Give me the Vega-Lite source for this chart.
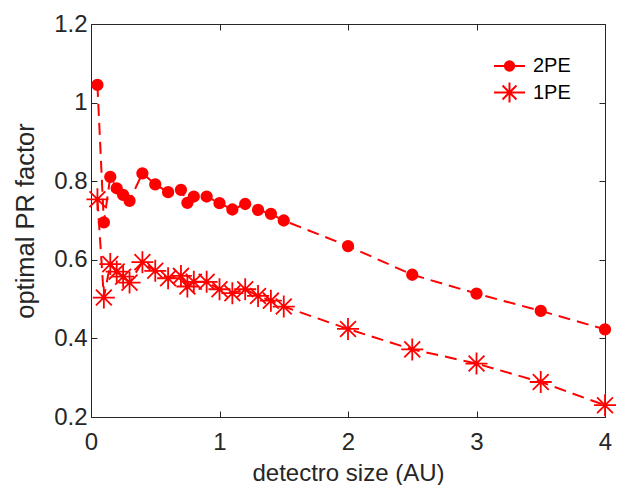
{
  "$schema": "https://vega.github.io/schema/vega-lite/v6.json",
  "width": 514,
  "height": 393,
  "autosize": "none",
  "padding": {"left": 91, "top": 24, "right": 12, "bottom": 68},
  "background": "white",
  "data": {
    "values": [
      {"size": 0.05, "factor": 1.045, "series": "2PE"},
      {"size": 0.1, "factor": 0.695, "series": "2PE"},
      {"size": 0.15, "factor": 0.811, "series": "2PE"},
      {"size": 0.2, "factor": 0.782, "series": "2PE"},
      {"size": 0.25, "factor": 0.765, "series": "2PE"},
      {"size": 0.3, "factor": 0.75, "series": "2PE"},
      {"size": 0.4, "factor": 0.82, "series": "2PE"},
      {"size": 0.5, "factor": 0.792, "series": "2PE"},
      {"size": 0.6, "factor": 0.772, "series": "2PE"},
      {"size": 0.7, "factor": 0.778, "series": "2PE"},
      {"size": 0.75, "factor": 0.745, "series": "2PE"},
      {"size": 0.8, "factor": 0.761, "series": "2PE"},
      {"size": 0.9, "factor": 0.761, "series": "2PE"},
      {"size": 1.0, "factor": 0.744, "series": "2PE"},
      {"size": 1.1, "factor": 0.728, "series": "2PE"},
      {"size": 1.2, "factor": 0.742, "series": "2PE"},
      {"size": 1.3, "factor": 0.727, "series": "2PE"},
      {"size": 1.4, "factor": 0.717, "series": "2PE"},
      {"size": 1.5, "factor": 0.7, "series": "2PE"},
      {"size": 2.0, "factor": 0.635, "series": "2PE"},
      {"size": 2.5, "factor": 0.562, "series": "2PE"},
      {"size": 3.0, "factor": 0.514, "series": "2PE"},
      {"size": 3.5, "factor": 0.47, "series": "2PE"},
      {"size": 4.0, "factor": 0.423, "series": "2PE"},
      {"size": 0.05, "factor": 0.754, "series": "1PE"},
      {"size": 0.1, "factor": 0.504, "series": "1PE"},
      {"size": 0.15, "factor": 0.589, "series": "1PE"},
      {"size": 0.2, "factor": 0.57, "series": "1PE"},
      {"size": 0.25, "factor": 0.557, "series": "1PE"},
      {"size": 0.3, "factor": 0.542, "series": "1PE"},
      {"size": 0.4, "factor": 0.594, "series": "1PE"},
      {"size": 0.5, "factor": 0.572, "series": "1PE"},
      {"size": 0.6, "factor": 0.553, "series": "1PE"},
      {"size": 0.7, "factor": 0.559, "series": "1PE"},
      {"size": 0.75, "factor": 0.532, "series": "1PE"},
      {"size": 0.8, "factor": 0.544, "series": "1PE"},
      {"size": 0.9, "factor": 0.544, "series": "1PE"},
      {"size": 1.0, "factor": 0.525, "series": "1PE"},
      {"size": 1.1, "factor": 0.515, "series": "1PE"},
      {"size": 1.2, "factor": 0.525, "series": "1PE"},
      {"size": 1.3, "factor": 0.508, "series": "1PE"},
      {"size": 1.4, "factor": 0.496, "series": "1PE"},
      {"size": 1.5, "factor": 0.481, "series": "1PE"},
      {"size": 2.0, "factor": 0.424, "series": "1PE"},
      {"size": 2.5, "factor": 0.372, "series": "1PE"},
      {"size": 3.0, "factor": 0.336, "series": "1PE"},
      {"size": 3.5, "factor": 0.289, "series": "1PE"},
      {"size": 4.0, "factor": 0.23, "series": "1PE"}
    ]
  },
  "layer": [
    {
      "mark": {"type": "line", "color": "#ff0000", "strokeWidth": 2, "strokeDash": [12, 7]},
      "encoding": {
        "x": {
          "field": "size", "type": "quantitative",
          "scale": {"domain": [0, 4], "nice": false, "zero": false},
          "axis": {"orient": "bottom", "values": [0, 1, 2, 3, 4], "format": "~g", "title": "detectro size (AU)", "labelPadding": 19, "titlePadding": 7}
        },
        "y": {
          "field": "factor", "type": "quantitative",
          "scale": {"domain": [0.2, 1.2], "nice": false, "zero": false},
          "axis": {"orient": "left", "values": [0.2, 0.4, 0.6, 0.8, 1, 1.2], "format": "~g", "title": "optimal PR factor", "labelPadding": 10, "titlePadding": 15, "titleFontSize": 25.5}
        },
        "detail": {"field": "series", "type": "nominal"}
      }
    },
    {
      "transform": [{"filter": "datum.series === '2PE'"}],
      "mark": {"type": "point", "shape": "circle", "size": 110, "filled": true, "stroke": "#ff0000", "strokeWidth": 1.8, "opacity": 1},
      "encoding": {
        "x": {"field": "size", "type": "quantitative", "axis": null},
        "y": {"field": "factor", "type": "quantitative", "axis": null},
        "color": {
          "field": "series", "type": "nominal",
          "scale": {"domain": ["2PE"], "range": ["#ff0000"]},
          "legend": {
            "orient": "none", "legendX": 402, "legendY": 25.5, "title": null, "padding": 0,
            "symbolType": "M-1,0L1,0M0.3,0A0.3,0.3,0,1,1,-0.3,0A0.3,0.3,0,1,1,0.3,0Z",
            "symbolSize": 961, "symbolFillColor": "#ff0000", "symbolStrokeColor": "#ff0000", "symbolStrokeWidth": 2,
            "labelFont": "Liberation Sans", "labelFontSize": 20, "labelColor": "#000000", "labelOffset": 7
          }
        }
      }
    },
    {
      "transform": [{"filter": "datum.series === '1PE'"}],
      "mark": {"type": "point", "shape": "M-1,0L1,0M0,-1L0,1M-0.72,-0.72L0.72,0.72M-0.72,0.72L0.72,-0.72", "size": 484, "filled": false, "strokeWidth": 1.8, "opacity": 1},
      "encoding": {
        "x": {"field": "size", "type": "quantitative", "axis": null},
        "y": {"field": "factor", "type": "quantitative", "axis": null},
        "stroke": {
          "field": "series", "type": "nominal",
          "scale": {"domain": ["1PE"], "range": ["#ff0000"]},
          "legend": {
            "orient": "none", "legendX": 402, "legendY": 52, "title": null, "padding": 0,
            "symbolType": "M-1,0L1,0M0,-0.645L0,0.645M-0.45,-0.45L0.45,0.45M-0.45,0.45L0.45,-0.45",
            "symbolSize": 961, "symbolStrokeColor": "#ff0000", "symbolStrokeWidth": 2,
            "labelFont": "Liberation Sans", "labelFontSize": 20, "labelColor": "#000000", "labelOffset": 7
          }
        }
      }
    },
    {
      "mark": {"type": "point", "opacity": 0},
      "encoding": {
        "x": {"field": "size", "type": "quantitative", "axis": {"orient": "top", "values": [0, 1, 2, 3, 4], "labels": false, "title": null}},
        "y": {"field": "factor", "type": "quantitative", "axis": {"orient": "right", "values": [0.2, 0.4, 0.6, 0.8, 1, 1.2], "labels": false, "title": null}}
      }
    }
  ],
  "resolve": {"axis": {"x": "independent", "y": "independent"}},
  "config": {
    "view": {"stroke": null},
    "axis": {
      "grid": false,
      "domainColor": "#262626", "tickColor": "#262626", "labelColor": "#262626", "titleColor": "#262626",
      "labelFont": "Liberation Sans", "titleFont": "Liberation Sans",
      "labelFontSize": 24, "titleFontSize": 24, "titleFontWeight": "normal",
      "tickSize": -6, "domainWidth": 1, "tickWidth": 1, "labelFlush": false, "labelOverlap": false
    }
  }
}
